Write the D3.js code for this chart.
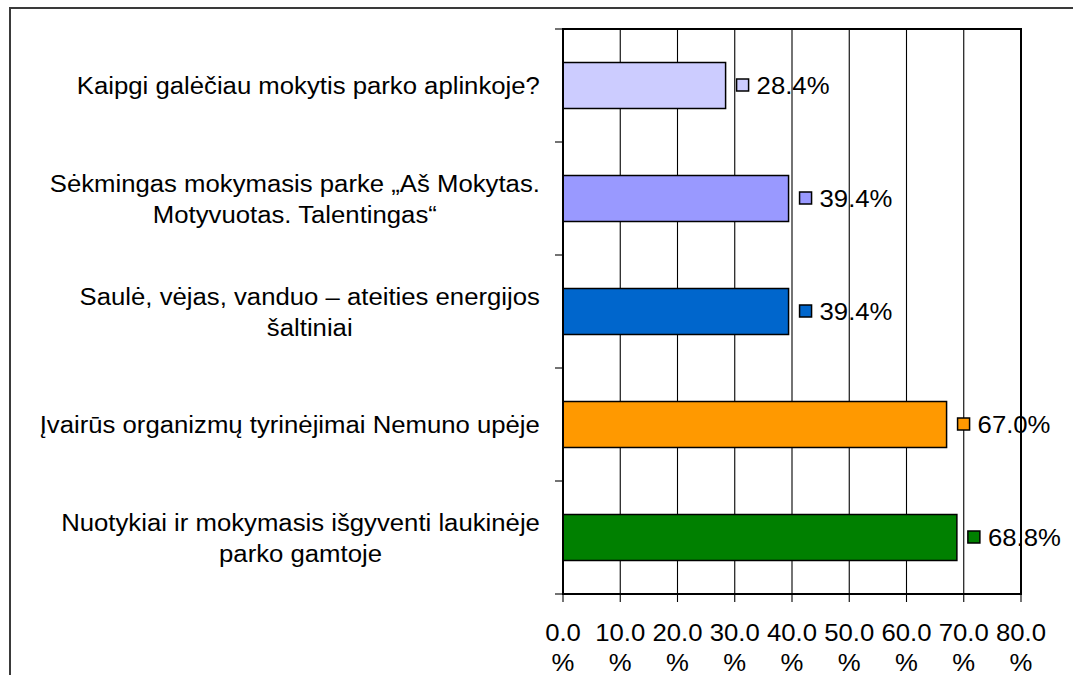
<!DOCTYPE html>
<html>
<head>
<meta charset="utf-8">
<script src="https://cdn.jsdelivr.net/npm/d3@7/dist/d3.min.js"></script>
<style>
html,body{margin:0;padding:0;background:#fff;}
svg{display:block;}
text{font-family:Arial, "Liberation Sans", sans-serif;fill:#000;}
</style>
</head>
<body>
<svg id="chart" width="1073" height="675"></svg>
<script>
const categories = [
  ["Kaipgi galėčiau mokytis parko aplinkoje?"],
  ["Sėkmingas mokymasis parke „Aš Mokytas.", "Motyvuotas. Talentingas“"],
  ["Saulė, vėjas, vanduo – ateities energijos", "šaltiniai"],
  ["Įvairūs organizmų tyrinėjimai Nemuno upėje"],
  ["Nuotykiai ir mokymasis išgyventi laukinėje", "parko gamtoje"]
];
const values = [28.4, 39.4, 39.4, 67.0, 68.8];
const colors = ["#ccccff", "#9999ff", "#0066cc", "#ff9900", "#008000"];
const tickValues = [0, 10, 20, 30, 40, 50, 60, 70, 80];
const tickLabels = ["0.0", "10.0", "20.0", "30.0", "40.0", "50.0", "60.0", "70.0", "80.0"];

(function () {
const FS = 24.5, SX = 1.05;
const svg = d3.select("#chart");

// outer frame
svg.append("rect").attr("x", 10).attr("y", 8).attr("width", 1075).attr("height", 700)
  .attr("fill", "none").attr("stroke", "#3a3a3a").attr("stroke-width", 2);

const pL = 563, pR = 1021, pT = 29, pB = 594;
const x = d3.scaleLinear().domain([0, 80]).range([pL, pR]);
const ids = categories.map((d, i) => i);
const y = d3.scaleBand().domain(ids).range([pT, pB]).paddingInner(0.593).paddingOuter(0.2965);
const step = y.step();

// gridlines
svg.append("g").selectAll("line").data(tickValues.slice(1, -1)).join("line")
  .attr("x1", d => x(d)).attr("x2", d => x(d)).attr("y1", pT).attr("y2", pB)
  .attr("stroke", "#000").attr("stroke-width", 1.1);

// x axis ticks
svg.append("g").selectAll("line").data(tickValues).join("line")
  .attr("x1", d => x(d)).attr("x2", d => x(d)).attr("y1", pB).attr("y2", pB + 8)
  .attr("stroke", "#000").attr("stroke-width", 1.1);

// y axis ticks at category boundaries
const bounds = d3.range(categories.length + 1).map(i => pT + i * step);
svg.append("g").selectAll("line").data(bounds).join("line")
  .attr("x1", pL - 8).attr("x2", pL).attr("y1", d => d).attr("y2", d => d)
  .attr("stroke", "#000").attr("stroke-width", 1.1);

// bars
svg.append("g").selectAll("rect").data(values).join("rect")
  .attr("x", x(0)).attr("y", (d, i) => y(i))
  .attr("width", d => x(d) - x(0)).attr("height", y.bandwidth())
  .attr("fill", (d, i) => colors[i]).attr("stroke", "#000").attr("stroke-width", 1.5);

// plot border
svg.append("rect").attr("x", pL).attr("y", pT).attr("width", pR - pL).attr("height", pB - pT)
  .attr("fill", "none").attr("stroke", "#000").attr("stroke-width", 2);

// value labels with legend keys
const vg = svg.append("g");
values.forEach((v, i) => {
  const cy = y(i) + y.bandwidth() / 2;
  const ex = x(v);
  vg.append("rect").attr("x", ex + 11).attr("y", cy - 6.5).attr("width", 12).attr("height", 12)
    .attr("fill", colors[i]).attr("stroke", "#000").attr("stroke-width", 1.5);
  vg.append("text").attr("transform", `translate(${ex + 31},${cy + 8.5}) scale(${SX},1)`)
    .attr("font-size", FS).text(v.toFixed(1) + "%");
});

// x tick labels
const tg = svg.append("g");
tickValues.forEach((t, i) => {
  tg.append("text").attr("transform", `translate(${x(t)},${641}) scale(${SX},1)`)
    .attr("text-anchor", "middle").attr("font-size", FS).text(tickLabels[i]);
  tg.append("text").attr("transform", `translate(${x(t)},${671}) scale(${SX},1)`)
    .attr("text-anchor", "middle").attr("font-size", FS).text("%");
});

// category labels
const lg = svg.append("g");
const labelRight = 540, lineH = 31;
categories.forEach((lines, i) => {
  const cy = y(i) + y.bandwidth() / 2;
  const texts = lines.map(l => lg.append("text").attr("font-size", FS).attr("text-anchor", "middle").text(l));
  const widths = texts.map(t => t.node().getComputedTextLength() * SX);
  const maxW = d3.max(widths);
  const cx = labelRight - maxW / 2;
  const n = lines.length;
  texts.forEach((t, j) => {
    const by = cy + (j - (n - 1) / 2) * lineH + 8.5;
    t.attr("transform", `translate(${cx},${by}) scale(${SX},1)`);
  });
});
})();
</script>
</body>
</html>
